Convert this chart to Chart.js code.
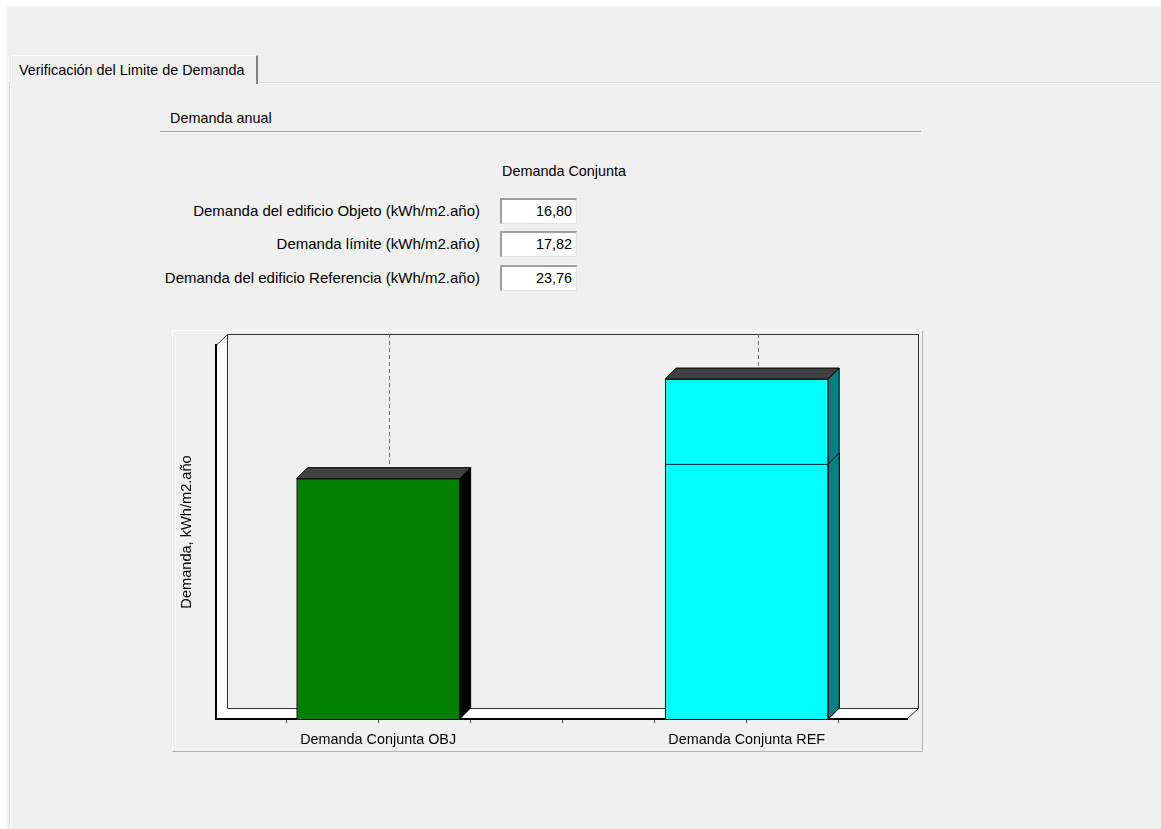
<!DOCTYPE html>
<html lang="es">
<head>
<meta charset="utf-8">
<title>Verificación del Limite de Demanda</title>
<script src="https://cdn.jsdelivr.net/npm/chart.js@4.4.1/dist/chart.umd.min.js"></script>
<style>
  html, body { margin: 0; padding: 0; }
  body {
    width: 1161px; height: 829px; position: relative; overflow: hidden;
    background: #ffffff;
    font-family: "Liberation Sans", Arial, sans-serif; color: #000;
  }
  .fondo { position: absolute; left: 7px; top: 6px; right: 0; bottom: 0; background: #f0f0f0; }
  .panel {
    position: absolute; left: 10px; top: 83px; right: 0; bottom: 0;
    border-top: 1px solid #ffffff; border-left: 1px solid #ffffff;
    box-shadow: -1px -1px 0 #d8d8d8;
  }
  .pestana {
    position: absolute; left: 11px; top: 55px; height: 29px; width: 247px;
    background: #f0f0f0; box-sizing: border-box;
    border-top: 1px solid #ffffff; border-left: 1px solid #ffffff;
    border-right: 2px solid #808080;
    font-size: 14.4px; line-height: 28px; padding-left: 7px; white-space: nowrap;
  }
  .seccion { position: absolute; left: 170px; top: 109px; font-size: 14.4px; line-height: 18px; }
  .linea {
    position: absolute; left: 160px; top: 131px; width: 761px; height: 0;
    border-top: 1px solid #a0a0a0; border-bottom: 1px solid #ffffff;
  }
  .cabecera { position: absolute; left: 480px; width: 168px; top: 162px; text-align: center; font-size: 14.4px; line-height: 18px; }
  .etiqueta { position: absolute; right: 681px; font-size: 15px; line-height: 18px; white-space: nowrap; }
  .caja {
    position: absolute; left: 500px; width: 77px; height: 26px; box-sizing: border-box;
    background: #ffffff;
    border-top: 2px solid #a0a0a0; border-left: 2px solid #a0a0a0;
    border-bottom: 1px solid #e3e3e3; border-right: 1px solid #e3e3e3;
    text-align: right; padding-right: 4px; font-size: 14.4px; line-height: 23px;
  }
  .grafico {
    position: absolute; left: 172px; top: 330px; width: 751px; height: 422px; box-sizing: border-box;
    border-top: 1px solid #ffffff; border-left: 1px solid #ffffff;
    border-right: 1px solid #b4b4b4; border-bottom: 1px solid #b4b4b4;
  }
  .grafico canvas { display: block; }
</style>
</head>
<body>
<div class="fondo"></div>
<div class="panel"></div>
<div class="pestana">Verificación del Limite de Demanda</div>
<div class="seccion">Demanda anual</div>
<div class="linea"></div>
<div class="cabecera">Demanda Conjunta</div>
<div id="tabla"></div>
<div class="grafico"><canvas id="chartDemanda" width="749" height="420"></canvas></div>

<script>
// Filas de la tabla y valores de demanda (kWh/m2.año)
const filas = [
    'Demanda del edificio Objeto (kWh/m2.año)',
    'Demanda límite (kWh/m2.año)',
    'Demanda del edificio Referencia (kWh/m2.año)'
];
const valores = [16.80, 17.82, 23.76];

// Categorías del eje X y su posición en el eje
const categorias = ['Demanda Conjunta OBJ', 'Demanda Conjunta REF'];
const posiciones = [0, 1];

const formato = v => v.toLocaleString('es-ES', { minimumFractionDigits: 2, maximumFractionDigits: 2 });

// --- TABLA DE VALORES ---
const tabla = document.getElementById('tabla');
const filasY = [202, 235, 269];
filas.forEach((texto, i) => {
    const et = document.createElement('div');
    et.className = 'etiqueta';
    et.style.top = filasY[i] + 'px';
    et.textContent = texto;
    tabla.appendChild(et);

    const caja = document.createElement('div');
    caja.className = 'caja';
    caja.style.top = (filasY[i] - 4) + 'px';
    caja.textContent = formato(valores[i]);
    tabla.appendChild(caja);
});

// --- PLUGIN: paredes, suelo y caras laterales en 3D ---
const PROF = 11;

const efecto3D = {
    id: 'efecto3D',
    beforeDraw(chart) {
        const { ctx, chartArea: a, scales: { x } } = chart;
        const d = PROF;
        ctx.save();
        ctx.fillStyle = '#ffffff';
        // suelo
        ctx.beginPath();
        ctx.moveTo(a.left, a.bottom);
        ctx.lineTo(a.right, a.bottom);
        ctx.lineTo(a.right + d, a.bottom - d);
        ctx.lineTo(a.left + d, a.bottom - d);
        ctx.closePath();
        ctx.fill();
        // pared izquierda
        ctx.beginPath();
        ctx.moveTo(a.left, a.bottom);
        ctx.lineTo(a.left, a.top);
        ctx.lineTo(a.left + d, a.top - d);
        ctx.lineTo(a.left + d, a.bottom - d);
        ctx.closePath();
        ctx.fill();

        // contorno de la pared del fondo
        ctx.strokeStyle = '#303030';
        ctx.lineWidth = 1;
        ctx.beginPath();
        ctx.moveTo(a.left, a.top + 0.5);
        ctx.lineTo(a.left + d + 0.5, a.top - d + 0.5);
        ctx.lineTo(a.right + d + 0.5, a.top - d + 0.5);
        ctx.lineTo(a.right + d + 0.5, a.bottom - d + 0.5);
        ctx.lineTo(a.right, a.bottom);
        ctx.moveTo(a.left + d + 0.5, a.top - d + 0.5);
        ctx.lineTo(a.left + d + 0.5, a.bottom - d + 0.5);
        ctx.lineTo(a.right + d + 0.5, a.bottom - d + 0.5);
        ctx.stroke();

        // líneas discontinuas de cada categoría sobre el fondo
        ctx.strokeStyle = '#707070';
        ctx.setLineDash([4, 3]);
        posiciones.forEach(p => {
            const px = Math.round(x.getPixelForValue(p)) + d + 0.5;
            ctx.beginPath();
            ctx.moveTo(px, a.top - d);
            ctx.lineTo(px, a.bottom - d);
            ctx.stroke();
        });
        ctx.restore();
    },
    afterDatasetsDraw(chart) {
        const { ctx } = chart;
        const d = PROF;
        const metas = chart.getSortedVisibleDatasetMetas().slice().reverse();
        ctx.save();
        ctx.strokeStyle = '#000000';
        ctx.lineWidth = 1;
        metas.forEach(meta => {
            const ds = chart.data.datasets[meta.index];
            meta.data.forEach(bar => {
                const { x, y, base, width } = bar.getProps(['x', 'y', 'base', 'width'], true);
                const izq = x - width / 2;
                const der = x + width / 2;
                // cara lateral
                ctx.fillStyle = ds.colorLateral;
                ctx.beginPath();
                ctx.moveTo(der, y);
                ctx.lineTo(der + d, y - d);
                ctx.lineTo(der + d, base - d);
                ctx.lineTo(der, base);
                ctx.closePath();
                ctx.fill();
                ctx.stroke();
                // cara superior
                if (ds.conTecho) {
                    ctx.fillStyle = '#404040';
                    ctx.beginPath();
                    ctx.moveTo(izq, y);
                    ctx.lineTo(izq + d, y - d);
                    ctx.lineTo(der + d, y - d);
                    ctx.lineTo(der, y);
                    ctx.closePath();
                    ctx.fill();
                    ctx.stroke();
                }
            });
        });
        ctx.restore();
    }
};

// --- GRÁFICO DE BARRAS ---
const ctx = document.getElementById('chartDemanda').getContext('2d');

new Chart(ctx, {
    type: 'bar',
    data: {
        datasets: [
            {
                label: 'Objeto',
                data: [{ x: posiciones[0], y: valores[0] }],
                backgroundColor: '#008000',
                colorLateral: '#000000',
                conTecho: true,
                order: 0
            },
            {
                label: 'Límite',
                data: [{ x: posiciones[1], y: valores[1] }],
                backgroundColor: '#00ffff',
                colorLateral: '#008080',
                conTecho: false,
                order: 1
            },
            {
                label: 'Referencia',
                data: [{ x: posiciones[1], y: valores[2] }],
                backgroundColor: '#00ffff',
                colorLateral: '#008080',
                conTecho: true,
                order: 2
            }
        ]
    },
    options: {
        responsive: false,
        animation: false,
        layout: { padding: { top: 14, right: 15, bottom: 0, left: 0 } },
        datasets: {
            bar: {
                grouped: false,
                barThickness: 163,
                borderColor: '#000000',
                borderWidth: 1,
                borderSkipped: 'start'
            }
        },
        scales: {
            x: {
                type: 'linear',
                offset: false,
                min: -0.44,
                max: 1.435,
                afterFit: s => { s.height = 32; },
                border: { display: true, color: '#000000', width: 2 },
                grid: { offset: false, drawOnChartArea: false, drawTicks: true, tickLength: 4, color: '#555555' },
                ticks: {
                    stepSize: 0.25,
                    includeBounds: false,
                    autoSkip: false,
                    maxRotation: 0,
                    minRotation: 0,
                    padding: 8,
                    color: '#000000',
                    font: { family: 'Liberation Sans', size: 14.4 },
                    callback: v => {
                        const i = posiciones.indexOf(v);
                        return i >= 0 ? categorias[i] : '';
                    }
                }
            },
            y: {
                min: 0,
                max: 26.14,
                afterFit: s => { s.width = 43; },
                border: { display: true, color: '#000000', width: 2 },
                grid: { display: false },
                ticks: { display: false },
                title: {
                    display: true,
                    text: 'Demanda, kWh/m2.año',
                    color: '#000000',
                    font: { family: 'Liberation Sans', size: 14.6 },
                    padding: { top: 5, bottom: 0 }
                }
            }
        },
        plugins: {
            legend: { display: false },
            tooltip: { enabled: false }
        }
    },
    plugins: [efecto3D]
});
</script>
</body>
</html>
